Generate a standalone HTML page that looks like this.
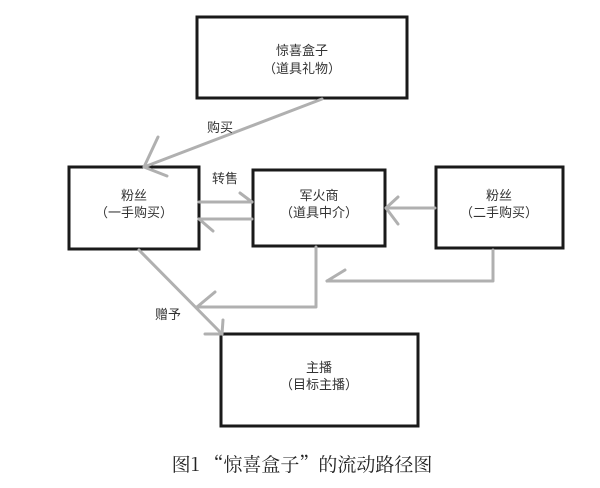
<!DOCTYPE html>
<html><head><meta charset="utf-8"><style>
html,body{margin:0;padding:0;background:#fff;}
svg{display:block;}
text{font-family:"Liberation Sans","Noto Sans CJK SC",sans-serif;fill:#333;}
</style></head><body>
<svg width="600" height="488" viewBox="0 0 600 488" xmlns="http://www.w3.org/2000/svg">
<g fill="#fff" stroke="#1a1a1a" stroke-width="3">
<rect x="197" y="17" width="210" height="81"/>
<rect x="69" y="167" width="130" height="82"/>
<rect x="253" y="170" width="132" height="76"/>
<rect x="436" y="167" width="127" height="81"/>
<rect x="221" y="334" width="197" height="92"/>
</g>
<g fill="none" stroke="#b0b0b0" stroke-width="3" stroke-linecap="round" stroke-linejoin="round">
<line x1="322" y1="99" x2="144" y2="167"/>
<polyline points="158,137 144,167 167,176"/>
<line x1="199" y1="202" x2="252" y2="202"/>
<polyline points="240,193 252,202"/>
<line x1="252" y1="219" x2="199" y2="219"/>
<polyline points="199,219 213,231"/>
<line x1="435" y1="208" x2="386" y2="208"/>
<polyline points="398,197 386,208 398,224"/>
<polyline points="493,250 493,281 327,281"/>
<polyline points="345,270 327,281"/>
<polyline points="316,247 316,307 197,307"/>
<polyline points="215,292 197,307"/>
<line x1="139" y1="250" x2="222" y2="334"/>
<polyline points="223,320 222,334 205,334"/>
</g>
<g font-size="13" text-anchor="middle">
<text x="302" y="55">惊喜盒子</text>
<text x="302" y="73">（道具礼物）</text>
<text x="134" y="200">粉丝</text>
<text x="134" y="217">（一手购买）</text>
<text x="319" y="200">军火商</text>
<text x="319" y="217">（道具中介）</text>
<text x="499" y="200">粉丝</text>
<text x="499" y="217">（二手购买）</text>
<text x="319" y="372">主播</text>
<text x="319" y="389">（目标主播）</text>
<text x="220" y="132">购买</text>
<text x="225" y="183">转售</text>
<text x="168" y="319">赠予</text>
</g>
<text x="302" y="471" font-size="19" text-anchor="middle" style="font-family:'Noto Serif CJK SC',serif;fill:#222">图1 “惊喜盒子”的流动路径图</text>
</svg>
</body></html>
